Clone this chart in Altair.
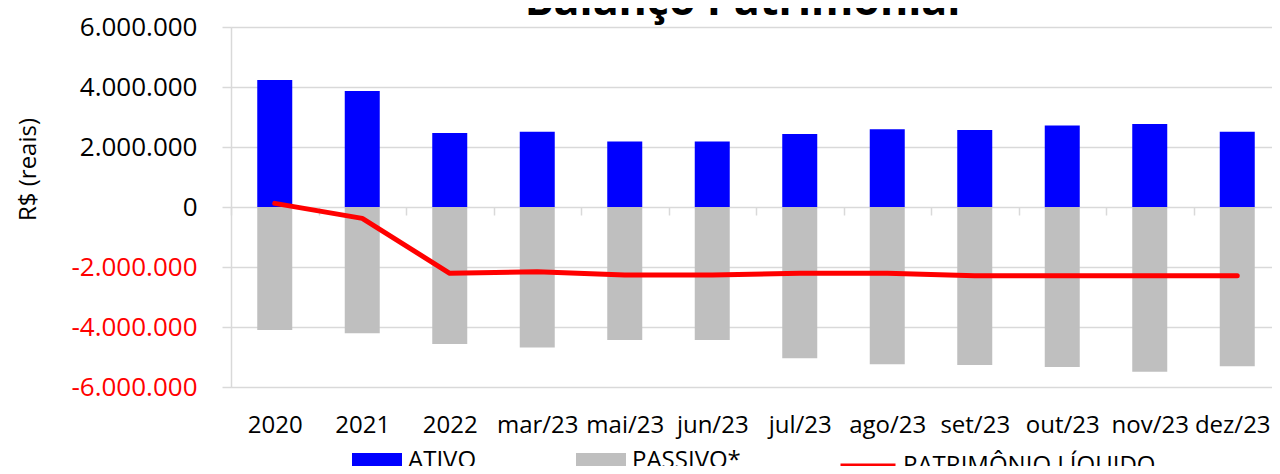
import altair as alt
import pandas as pd

categorias = ["2020", "2021", "2022", "mar/23", "mai/23", "jun/23", "jul/23",
              "ago/23", "set/23", "out/23", "nov/23", "dez/23"]
ativo = [4230000, 3870000, 2470000, 2510000, 2180000, 2180000, 2430000,
         2590000, 2570000, 2720000, 2770000, 2510000]
passivo = [-4100000, -4210000, -4570000, -4680000, -4430000, -4430000, -5040000,
           -5240000, -5270000, -5330000, -5490000, -5310000]
patrimonio = [120000, -380000, -2210000, -2160000, -2270000, -2270000, -2210000,
              -2210000, -2290000, -2290000, -2290000, -2290000]
y_ticks = [-6000000, -4000000, -2000000, 0, 2000000, 4000000, 6000000]

FONT = "Open Sans"
GRID = "#D9D9D9"

bars_df = pd.DataFrame(
    {"cat": categorias * 2,
     "serie": ["ATIVO"] * len(categorias) + ["PASSIVO*"] * len(categorias),
     "valor": ativo + passivo,
     "ordem": [0] * len(categorias) + [1] * len(categorias)}
)
line_df = pd.DataFrame({"cat": categorias, "linha": ["PATRIMÔNIO LÍQUIDO"] * len(categorias),
                        "valor": patrimonio})

label_expr = ("replace(replace(replace(format(datum.value, ','), ',', '.'), ',', '.'), '\u2212', '-')")

x_enc = alt.X(
    "cat:N", sort=categorias,
    scale=alt.Scale(paddingInner=0, paddingOuter=0, range=[0, 1050]),
    axis=alt.Axis(title=None, offset=-180, domain=False, ticks=True, tickBand="extent",
                  tickSize=8, tickColor=GRID, tickWidth=1.5, labelPadding=198,
                  labelAngle=0, labelFontSize=24, labelFont=FONT, labelColor="#000000",
                  labelOffset={"condition": {"test": "datum.value == 'dez/23'", "value": -5},
                               "value": 0},
                  labelOverlap=False, grid=False),
)
y_scale = alt.Scale(domain=[-6000000, 6000000], nice=False)
y_axis = alt.Axis(
    values=y_ticks, labelExpr=label_expr,
    labelColor={"condition": {"test": "datum.value < 0", "value": "#FF0000"}, "value": "#000000"},
    labelFontSize=26, labelFont=FONT, labelPadding=25,
    tickSize=9, tickColor=GRID, tickWidth=1.5,
    domainColor=GRID, domainWidth=1.5, gridColor=GRID, gridWidth=1.5,
    title="R$ (reais)", titleFont=FONT, titleFontSize=24, titleFontWeight="normal",
    titleColor="#000000", titleX=-203, titleY=142, titleAngle=-90,
    titleAlign="center", titleBaseline="middle",
)

bars = alt.Chart(bars_df).mark_bar(size=35).encode(
    x=x_enc,
    y=alt.Y("valor:Q", scale=y_scale, axis=y_axis),
    order=alt.Order("ordem:Q"),
    fill=alt.Fill(
        "serie:N",
        scale=alt.Scale(domain=["ATIVO", "PASSIVO*"], range=["#0000FF", "#BFBFBF"]),
        legend=alt.Legend(
            title=None, orient="none", legendX=121, legendY=409, direction="horizontal",
            symbolType="M-1,-0.32H1V0.32H-1Z", symbolSize=2500, symbolStrokeWidth=0,
            labelFont=FONT, labelFontSize=24, labelColor="#000000", labelOffset=6,
            labelLimit=0, columnPadding=99, padding=0,
        ),
    ),
)

line = alt.Chart(line_df).mark_line(strokeWidth=5, strokeCap="round", strokeJoin="round").encode(
    x=alt.X("cat:N", sort=categorias),
    y=alt.Y("valor:Q"),
    stroke=alt.Stroke(
        "linha:N",
        scale=alt.Scale(domain=["PATRIMÔNIO LÍQUIDO"], range=["#FF0000"]),
        legend=alt.Legend(
            title=None, orient="none", legendX=607, legendY=409, direction="horizontal",
            symbolType="stroke", symbolSize=3025, symbolStrokeWidth=5,
            labelFont=FONT, labelFontSize=24, labelColor="#000000", labelOffset=5,
            labelLimit=0, padding=0,
        ),
    ),
)

chart = alt.layer(bars, line).properties(
    width=1041, height=360,
    title=alt.TitleParams("Balanço Patrimonial", font=FONT, fontSize=43, fontWeight="bold",
                          color="#000000", anchor="middle", dx=-9, baseline="alphabetic",
                          offset=17, dy=61),
    autosize=alt.AutoSizeParams(type="none"),
    padding={"left": 223, "top": 19, "right": 0, "bottom": 79},
).configure_view(stroke=None).configure(background="white")

chart.save("out.html", embed_options={"renderer": "svg", "actions": False})
